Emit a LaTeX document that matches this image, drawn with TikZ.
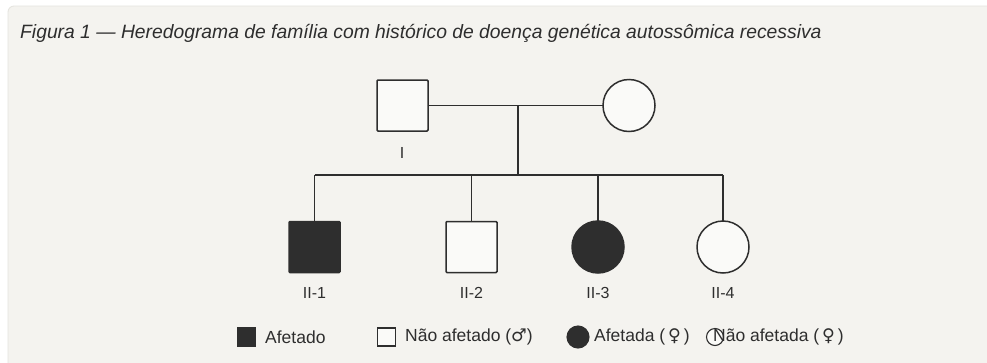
\documentclass[tikz,border=0pt]{standalone}
\usepackage{fontspec}
\setmainfont{Liberation Sans}
\newfontfamily\symf{DejaVu Sans}
\definecolor{panel}{HTML}{F4F3EF}
\definecolor{edge}{HTML}{E4E3DE}
\definecolor{ink}{HTML}{2E2E2E}
\definecolor{boxfill}{HTML}{FAFAF8}
\tikzset{
  person/.style={draw=ink, line width=1.5pt, inner sep=0pt, outer sep=0pt},
  male/.style={person, rectangle, minimum size=51pt, rounded corners=1pt},
  female/.style={person, circle, minimum size=52pt},
  affected/.style={fill=ink},
  unaffected/.style={fill=boxfill},
  link/.style={draw=ink, line width=1.5pt},
  lbl/.style={font=\fontsize{16}{18}\selectfont, text=ink, inner sep=0pt},
  legtxt/.style={font=\fontsize{17.5}{20}\selectfont, text=ink, inner sep=0pt, anchor=west},
  legm/.style={draw=ink, line width=1.1pt, rectangle, minimum size=18pt, inner sep=0pt},
  legf/.style={draw=ink, line width=1.1pt, circle, minimum size=22pt, inner sep=0pt},
}
\begin{document}
\begin{tikzpicture}[x=1pt, y=-1pt]
\useasboundingbox (0,0) rectangle (987,362);
\fill[white] (0,0) rectangle (987,362);
\filldraw[fill=panel, draw=edge, line width=0.8pt, rounded corners=6pt] (8,6) rectangle (995,370);

% title
\node[anchor=base west, inner sep=0pt, text=ink, font=\itshape\fontsize{19.3}{22}\selectfont] (title) at (20,38)
  {Figura 1 — Heredograma de família com histórico de doença genética autossômica recessiva};

% generation I
\node[male, unaffected] (I1) at (402.5,105.5) {};
\node[female, unaffected] (I2) at (629,105.5) {};
\coordinate (m) at (518,105.5);
\coordinate (s) at (518,175);
\draw[link] (I1.east) -- (I2.west);
\draw[link] (m) -- (s);

% generation II
\node[male, affected] (II1) at (314.5,247) {};
\node[male, unaffected] (II2) at (471.5,247) {};
\node[female, affected] (II3) at (598,247) {};
\node[female, unaffected] (II4) at (723,247) {};
\coordinate (c1) at (314.5,175);
\coordinate (c2) at (471.5,175);
\coordinate (c3) at (598,175);
\coordinate (c4) at (723,175);
\draw[link] (c1) -- (c4);
\draw[link] (c1) -- (II1.north);
\draw[link] (c2) -- (II2.north);
\draw[link] (c3) -- (II3.north);
\draw[link] (c4) -- (II4.north);

% labels
\node[lbl] (lI) at (402,153) {I};
\node[lbl] (l1) at (314.5,293) {II-1};
\node[lbl] (l2) at (471.5,293) {II-2};
\node[lbl] (l3) at (598,293) {II-3};
\node[lbl] (l4) at (723,293) {II-4};

% legend
\node[legm, fill=ink] (k1) at (246.5,337) {};
\node[legtxt] (t1) at (265,337) {Afetado};
\node[legm, fill=boxfill] (k2) at (386.5,337) {};
\node[legtxt] (t2) at (405,337) {Não afetado ({\symf ♂})};
\node[legf, fill=ink] (k3) at (578,337) {};
\node[legtxt] (t3) at (594,337) {Afetada ({\symf\,♀\,})};
\node[legf, fill=boxfill, minimum size=17pt] (k4) at (715,337) {};
\node[legtxt] (t4) at (713,337) {Não afetada ({\symf\,♀\,})};
\end{tikzpicture}
\end{document}
